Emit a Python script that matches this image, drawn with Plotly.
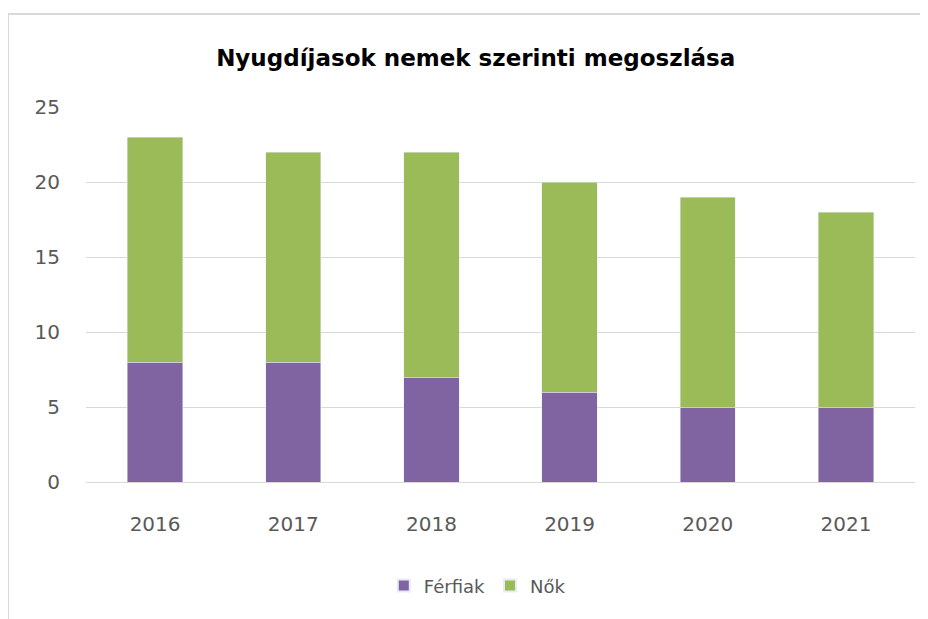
import plotly.graph_objects as go

years = ["2016", "2017", "2018", "2019", "2020", "2021"]
ferfiak = [8, 8, 7, 6, 5, 5]
nok = [15, 14, 15, 14, 14, 13]
y_ticks = [0, 5, 10, 15, 20, 25]

fig = go.Figure()
fig.add_trace(go.Bar(x=years, y=ferfiak, name="Férfiak", marker_color="#8064A2"))
fig.add_trace(go.Bar(x=years, y=nok, name="Nők", marker_color="#9BBB59"))

font_family = "DejaVu Sans, sans-serif"
fig.update_layout(
    width=928, height=619,
    barmode="stack", bargap=0.6,
    paper_bgcolor="white", plot_bgcolor="white",
    margin=dict(l=78, r=21, t=99, b=145),
    title=dict(text="<b>Nyugdíjasok nemek szerinti megoszlása</b>",
               x=0.504, xanchor="center", y=0.919, yanchor="middle",
               font=dict(family=font_family, size=23, color="#000000")),
    font=dict(family=font_family, color="#595959", size=19),
    showlegend=True,
    legend=dict(orientation="h", x=0.472, xanchor="center", y=-0.277, yanchor="middle",
                font=dict(size=18, color="#595959"), traceorder="normal",
                itemwidth=30, itemsizing="constant"),
    xaxis=dict(showgrid=False, showline=True, linecolor="#d9d9d9", linewidth=1,
               ticks="", ticklabelstandoff=24, tickfont=dict(size=20)),
    yaxis=dict(range=[0, 25], tickvals=y_ticks, showgrid=True, gridcolor="#d9d9d9",
               gridwidth=1, zeroline=False, ticks="", ticklabelstandoff=25,
               tickfont=dict(size=20)),
    shapes=[dict(type="rect", xref="paper", yref="paper",
                 x0=-0.094, x1=1.1, y0=-0.5, y1=1.248,
                 line=dict(color="#d9d9d9", width=2), fillcolor="rgba(0,0,0,0)",
                 layer="below")],
)

fig.write_html("out.html")
